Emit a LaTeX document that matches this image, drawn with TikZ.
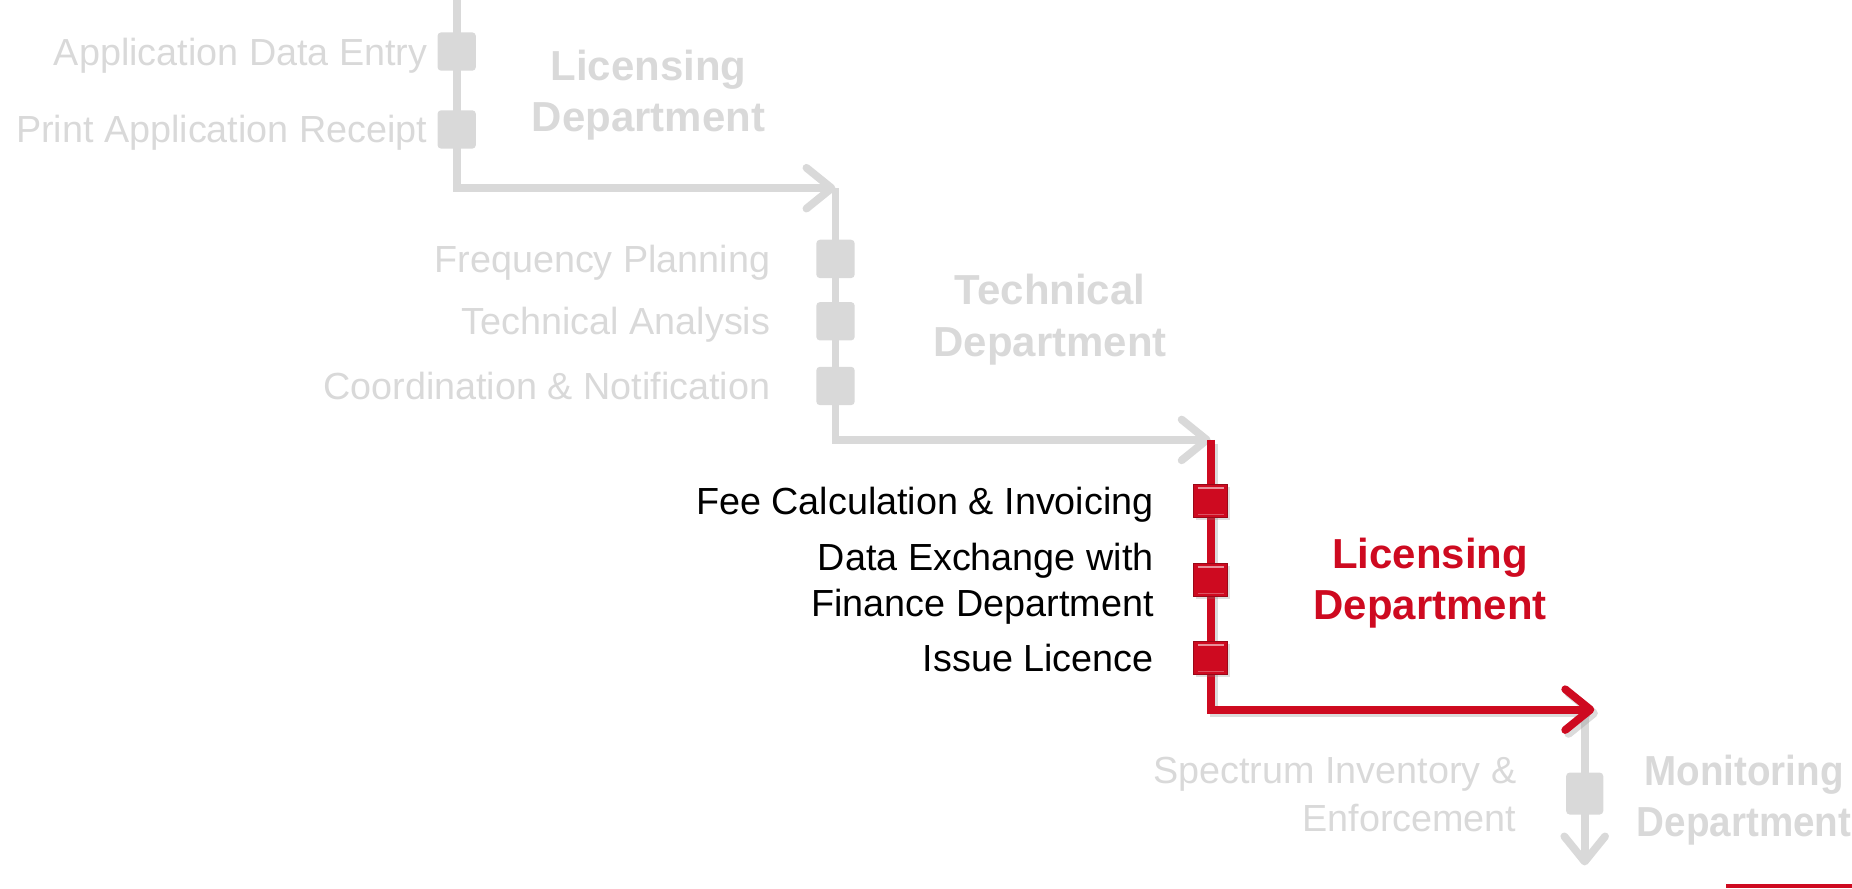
\documentclass[tikz,border=0pt]{standalone}
\usepackage{fontspec}
\usepackage{graphicx}
\setmainfont{Liberation Sans}
\usetikzlibrary{positioning, arrows.meta, shadows}
\definecolor{lightgrey}{HTML}{D9D9D9}
\definecolor{deptred}{HTML}{CE0A20}
\tikzset{track/.style={draw=lightgrey, line width=6.5pt, -{Straight Barb[length=21pt, width=34pt, round]}}}
\tikzset{redtrack/.style={track, draw=deptred, preaction={draw=black!40, opacity=0.35, line width=7pt, transform canvas={shift={(3pt,-3pt)}}}}}
\tikzset{greybox/.style={rectangle, rounded corners=3pt, fill=lightgrey, minimum size=32pt, inner sep=0pt}}
\tikzset{redbox/.style={rectangle, fill=deptred, draw=deptred!75!black, line width=0.8pt, minimum size=28pt, inner sep=0pt,
    drop shadow={opacity=0.25, shadow xshift=2pt, shadow yshift=-2pt},
    path picture={\draw[white, opacity=0.55, line width=1.5pt] ([shift={(3pt,-3pt)}]path picture bounding box.north west) -- ([shift={(-3pt,-3pt)}]path picture bounding box.north east);
                  \draw[white, opacity=0.3, line width=1.2pt] ([shift={(3pt,3pt)}]path picture bounding box.south west) -- ([shift={(-3pt,3pt)}]path picture bounding box.south east);}}}
\tikzset{steptext/.style={font=\fontsize{31.5}{38}\selectfont, text=lightgrey, align=right, inner sep=0pt, text height=22.5pt, text depth=0pt}}
\tikzset{twolines/.style={text height=60.5pt}}
\tikzset{activetext/.style={steptext, text=black}}
\tikzset{depttext/.style={font=\bfseries\fontsize{35}{43}\selectfont, text=lightgrey, align=center, inner sep=0pt, text height=68pt, text depth=0pt}}
\tikzset{activedept/.style={depttext, text=deptred}}

\begin{document}
\begin{tikzpicture}[x=1pt, y=-1pt]
	\useasboundingbox (0,0) rectangle (1545,741);

	% corners of the process line
	\coordinate (top) at (381,0);
	\coordinate (bendA) at (381,157);
	\coordinate (tipA) at (697,157);
	\coordinate (bendB) at (697,367);
	\coordinate (tipB) at (1010,367);
	\coordinate (bendC) at (1010,592);
	\coordinate (tipC) at (1322,592);
	\coordinate (tipD) at (1322,722);

	\draw[track] (top) -- (bendA) -- (tipA);
	\draw[track] (tipA) -- (bendB) -- (tipB);
	\draw[track] (tipC) -- (tipD);
	\draw[redtrack] (tipB) -- (bendC) -- ([xshift=8pt]tipC);

	% licensing department (first pass)
	\node[greybox] (entry) at (381,43){};
	\node[greybox] (receipt) at (381,108){};
	\node[steptext, left=8pt of entry] (entrytxt){Application Data Entry};
	\node[steptext, left=8pt of receipt] (receipttxt){Print Application Receipt};
	\node[depttext] (licA) at (541,76){Licensing\\Department};

	% technical department
	\node[greybox] (freq) at (697,216){};
	\node[greybox] (analysis) at (697,268){};
	\node[greybox] (coord) at (697,322){};
	\node[steptext, left=38pt of freq] (freqtxt){Frequency Planning};
	\node[steptext, left=38pt of analysis] (analysistxt){Technical Analysis};
	\node[steptext, left=38pt of coord] (coordtxt){Coordination \& Notification};
	\node[depttext] (tech) at (876,263){Technical\\Department};

	% licensing department (current)
	\node[redbox] (fee) at (1010,418){};
	\node[redbox] (exch) at (1010,484){};
	\node[redbox] (issue) at (1010,549){};
	\node[activetext, left=33pt of fee] (feetxt){Fee Calculation \& Invoicing};
	\node[activetext, twolines, left=33pt of exch] (exchtxt){Data Exchange with\\Finance Department};
	\node[activetext, left=33pt of issue] (issuetxt){Issue Licence};
	\node[activedept] (licB) at (1193,483){Licensing\\Department};

	% monitoring department
	\node[greybox, minimum width=31pt, minimum height=35pt] (inventory) at (1322,662){};
	\node[steptext, font=\fontsize{31.5}{40}\selectfont, text height=62.5pt, left=41pt of inventory] (inventorytxt){Spectrum Inventory \&\\Enforcement};
	\node[depttext] (monit) at (1455,664){\scalebox{0.92}[1]{Monitoring}\\\scalebox{0.92}[1]{Department}};

	\draw[deptred, line width=3pt] (1440,739) -- (1545,739);
\end{tikzpicture}
\end{document}
